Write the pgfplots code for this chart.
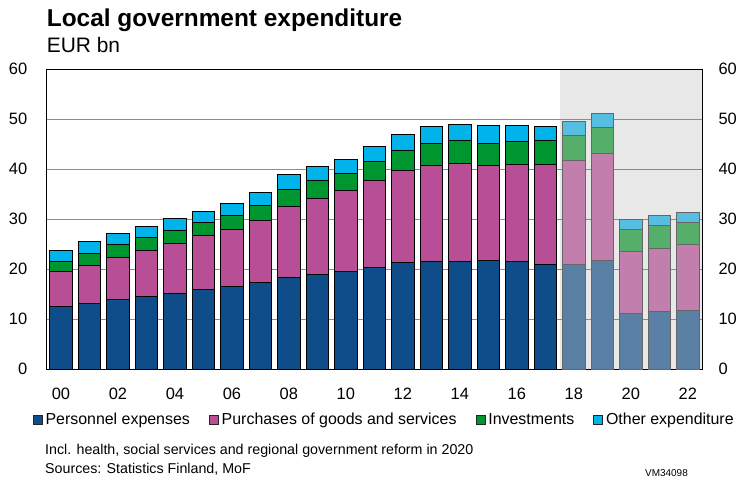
\documentclass[border=0pt]{standalone}
\usepackage{pgfplots}
\usepackage{pgfplotstable}
\pgfplotsset{compat=1.18}
\usepackage{fontspec}
\setmainfont{Liberation Sans}

\definecolor{cP}{HTML}{0F4C8A}
\definecolor{cG}{HTML}{B84E96}
\definecolor{cI}{HTML}{00962F}
\definecolor{cO}{HTML}{00B4EB}
\definecolor{fP}{HTML}{5A80A6}
\definecolor{fG}{HTML}{C27EAC}
\definecolor{fI}{HTML}{55AE6A}
\definecolor{fO}{HTML}{55BEE1}
\definecolor{bggray}{HTML}{E8E8E8}

\pgfplotstableread{
x  pers  purch  inv  other
0  12.5  7.0   2.0  2.2
1  13.2  7.6   2.4  2.3
2  14.0  8.4   2.5  2.3
3  14.6  9.1   2.7  2.1
4  15.2  9.9   2.7  2.3
5  16.0  10.7  2.6  2.2
6  16.6  11.4  2.7  2.5
7  17.3  12.5  2.9  2.7
8  18.4  14.2  3.4  2.9
9  19.0  15.1  3.6  2.8
10 19.5  16.2  3.5  2.7
11 20.4  17.3  3.9  2.9
12 21.3  18.4  4.1  3.1
13 21.6  19.1  4.5  3.3
14 21.6  19.5  4.7  3.1
15 21.7  19.0  4.5  3.5
16 21.5  19.4  4.6  3.3
17 21.0  19.9  4.8  2.8
}\hist

\pgfplotstableread{
x  pers  purch  inv  other
18 20.9  20.8  5.0  2.8
19 21.7  21.4  5.2  2.8
20 11.2  12.4  4.4  2.0
21 11.5  12.7  4.5  2.0
22 11.8  13.1  4.5  2.0
}\fcst

\pgfplotsset{
  geom/.style={
    scale only axis, width=655.3bp, height=300bp,
    xmin=-0.5, xmax=22.5, ymin=0, ymax=60,
    anchor=south west, at={(0,0)},
  },
  common/.style={
    geom,
    ytick={0,10,...,60},
    major tick length=0,
    /pgf/number format/assume math mode=true,
    tick label style={font=\fontsize{16.5}{18}\selectfont},
    ybar stacked, bar width=22.5bp,
  }
}

\begin{document}
\begin{tikzpicture}[x=1bp,y=1bp]
\useasboundingbox (-46.7,-109.7) rectangle (692.3,369.3);

\begin{axis}[geom, hide axis]
\fill[bggray] (axis cs:17.5,0) rectangle (axis cs:22.5,60);
\end{axis}

\begin{axis}[common,
  axis line style={black, line width=1bp},
  ymajorgrids, grid style={gray!90, line width=1bp},
  xtick={0,2,...,22},
  xticklabels={00,02,04,06,08,10,12,14,16,18,20,22},
  xticklabel style={yshift=-15bp},
  yticklabel style={xshift=-16bp},
  legend columns=4,
  legend style={at={(0.515,-0.168)}, anchor=center, draw=none, fill=none,
    font=\fontsize{16}{18}\selectfont,
    /tikz/every even column/.append style={column sep=17bp},
    /tikz/every odd column/.append style={column sep=1bp}},
  legend image code/.code={\draw[#1, draw=black!85, line width=0.8bp] (0bp,-4.5bp) rectangle (9bp,4.5bp);},
  every axis plot/.append style={draw=black, line width=0.9bp},
]
\addplot[fill=cP] table[x=x,y=pers]{\hist};
\addplot[fill=cG] table[x=x,y=purch]{\hist};
\addplot[fill=cI] table[x=x,y=inv]{\hist};
\addplot[fill=cO] table[x=x,y=other]{\hist};
\legend{Personnel expenses, Purchases of goods and services, Investments, Other expenditure}
\end{axis}

\begin{axis}[common,
  hide x axis, axis y line*=right,
  axis line style={black, line width=1bp},
  yticklabel style={xshift=13bp},
  every axis plot/.append style={draw=black!60, line width=0.9bp},
]
\addplot[fill=fP] table[x=x,y=pers]{\fcst};
\addplot[fill=fG] table[x=x,y=purch]{\fcst};
\addplot[fill=fI] table[x=x,y=inv]{\fcst};
\addplot[fill=fO] table[x=x,y=other]{\fcst};
\end{axis}

\node[anchor=base west, inner sep=0, font=\fontsize{24.5}{28}\selectfont\bfseries] at (0,342.3) {Local government expenditure};
\node[anchor=base west, inner sep=0, font=\fontsize{21}{24}\selectfont] at (0,316.3) {EUR bn};
\node[anchor=base west, inner sep=0, font=\fontsize{14.3}{16}\selectfont] at (-1.7,-85) {Incl. health, social services and regional government reform in 2020};
\node[anchor=base west, inner sep=0, font=\fontsize{14.3}{16}\selectfont] at (-1.7,-104) {Sources: Statistics Finland, MoF};
\node[anchor=base east, inner sep=0, font=\fontsize{10}{11}\selectfont] at (641.3,-107) {VM34098};
\end{tikzpicture}
\end{document}
